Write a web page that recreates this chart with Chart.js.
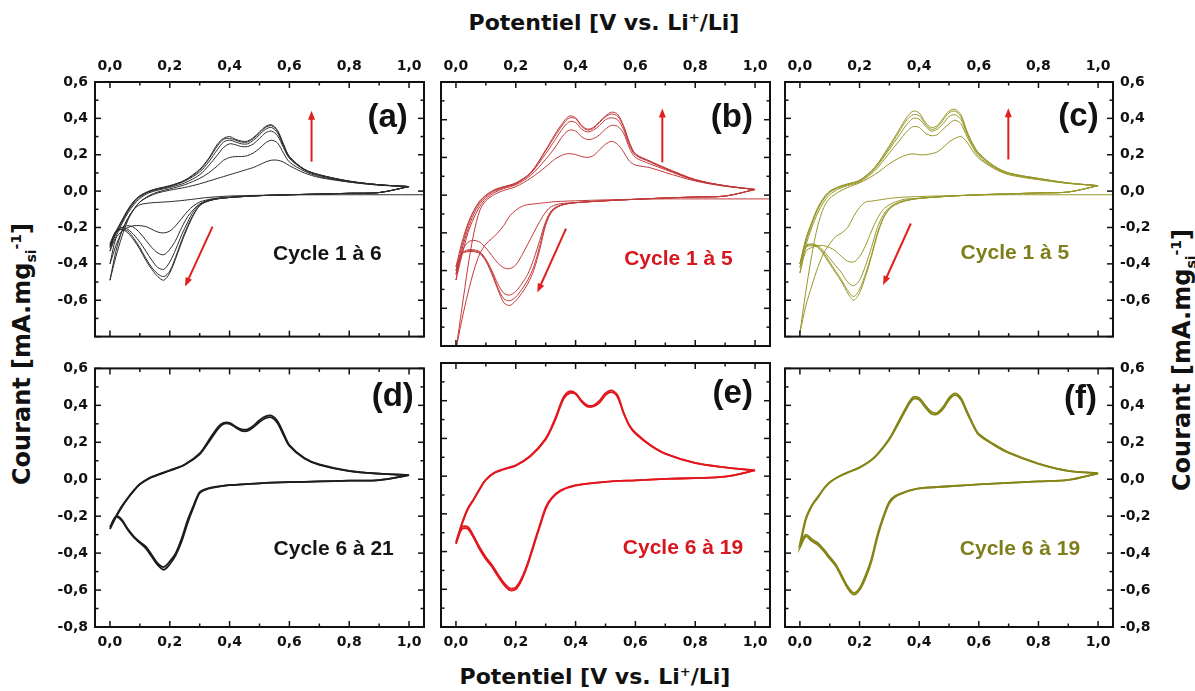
<!DOCTYPE html>
<html lang="fr">
<head>
<meta charset="UTF-8">
<title>Voltammétrie cyclique</title>
<script src="https://cdn.jsdelivr.net/npm/chart.js@4.4.0/dist/chart.umd.min.js"></script>
<style>
    body { margin: 0; background: #fff; }
    #fig { position: relative; width: 1195px; height: 691px; overflow: hidden; font-family: "DejaVu Sans", sans-serif; }
    #fig canvas { position: absolute; }
    .ttl { position: absolute; font-weight: bold; font-size: 22px; line-height: 1; color: #111; white-space: nowrap; transform: translate(-50%, -50%); }
    .ttl.v { font-size: 24px; transform: translate(-50%, -50%) rotate(-90deg); }
    .ttl sup, .ttl sub { font-size: 13px; line-height: 0; }
    .ttl.v sup, .ttl.v sub { font-size: 14px; }
</style>
</head>
<body>
<div id="fig">
    <canvas id="pa" width="390" height="302" style="left:40px;top:50px"></canvas>
    <canvas id="pb" width="341" height="302" style="left:435px;top:50px"></canvas>
    <canvas id="pc" width="389" height="302" style="left:779px;top:50px"></canvas>
    <canvas id="pd" width="390" height="306" style="left:40px;top:353px"></canvas>
    <canvas id="pe" width="341" height="306" style="left:435px;top:353px"></canvas>
    <canvas id="pf" width="389" height="306" style="left:779px;top:353px"></canvas>

    <div class="ttl" style="left:604px;top:23px">Potentiel [V vs. Li<sup>+</sup>/Li]</div>
    <div class="ttl" style="left:595px;top:677px">Potentiel [V vs. Li<sup>+</sup>/Li]</div>
    <div class="ttl v" style="left:22px;top:354px">Courant [mA.mg<sub>si</sub><sup>-1</sup>]</div>
    <div class="ttl v" style="left:1182px;top:360px">Courant [mA.mg<sub>si</sub><sup>-1</sup>]</div>
</div>

<script>
// potential grids (V vs Li+/Li)
const potCath = [1.0, 0.9, 0.8, 0.7, 0.6, 0.5, 0.4, 0.35, 0.32, 0.3, 0.28, 0.26, 0.24, 0.22, 0.2, 0.18, 0.16, 0.14, 0.12, 0.1, 0.08, 0.06, 0.04, 0.02, 0.0];
const potCathOcp = [1.05, 0.9, 0.8, 0.7, 0.6, 0.5, 0.4, 0.35, 0.32, 0.3, 0.28, 0.26, 0.24, 0.22, 0.2, 0.18, 0.16, 0.14, 0.12, 0.1, 0.08, 0.06, 0.04, 0.02, 0.0];
const potAnod = [0.0, 0.02, 0.04, 0.06, 0.08, 0.1, 0.13, 0.16, 0.2, 0.25, 0.3, 0.33, 0.36, 0.38, 0.4, 0.42, 0.44, 0.46, 0.48, 0.5, 0.52, 0.54, 0.56, 0.58, 0.6, 0.65, 0.7, 0.8, 0.9, 1.0];

const xTickValues = [0.0, 0.2, 0.4, 0.6, 0.8, 1.0];
const yTickValues = [0.6, 0.4, 0.2, 0.0, -0.2, -0.4, -0.6, -0.8];

// (a) cycles 1 to 6 - current in mA/mg
const aCath = [
    [-0.02, -0.02, -0.02, -0.02, -0.021, -0.023, -0.027, -0.032, -0.036, -0.04, -0.044, -0.048, -0.052, -0.055, -0.058, -0.06, -0.062, -0.064, -0.068, -0.075, -0.1, -0.15, -0.22, -0.33, -0.49],
    [0.025, -0.008, -0.012, -0.016, -0.02, -0.025, -0.033, -0.04, -0.05, -0.06, -0.08, -0.11, -0.15, -0.19, -0.22, -0.23, -0.225, -0.21, -0.195, -0.19, -0.19, -0.2, -0.22, -0.26, -0.4],
    [0.025, -0.008, -0.012, -0.016, -0.02, -0.025, -0.035, -0.043, -0.055, -0.07, -0.1, -0.14, -0.2, -0.27, -0.32, -0.35, -0.34, -0.31, -0.27, -0.23, -0.2, -0.19, -0.2, -0.23, -0.33],
    [0.025, -0.008, -0.012, -0.016, -0.02, -0.025, -0.035, -0.045, -0.058, -0.075, -0.11, -0.17, -0.24, -0.32, -0.39, -0.43, -0.42, -0.38, -0.33, -0.28, -0.24, -0.21, -0.2, -0.22, -0.3],
    [0.025, -0.008, -0.012, -0.016, -0.02, -0.025, -0.035, -0.045, -0.06, -0.08, -0.125, -0.19, -0.27, -0.36, -0.44, -0.47, -0.455, -0.42, -0.37, -0.31, -0.26, -0.22, -0.21, -0.23, -0.31],
    [0.025, -0.008, -0.012, -0.016, -0.02, -0.025, -0.035, -0.045, -0.06, -0.08, -0.13, -0.2, -0.28, -0.37, -0.45, -0.49, -0.47, -0.43, -0.38, -0.32, -0.27, -0.23, -0.21, -0.22, -0.29]
];
const aAnod = [
    [-0.49, -0.36, -0.25, -0.16, -0.1, -0.06, -0.03, -0.01, 0.005, 0.02, 0.04, 0.055, 0.07, 0.08, 0.09, 0.1, 0.11, 0.12, 0.13, 0.145, 0.16, 0.17, 0.17, 0.16, 0.14, 0.1, 0.075, 0.05, 0.033, 0.025],
    [-0.4, -0.3, -0.22, -0.15, -0.1, -0.06, -0.025, -0.005, 0.012, 0.035, 0.07, 0.1, 0.14, 0.17, 0.185, 0.19, 0.19, 0.195, 0.21, 0.235, 0.265, 0.28, 0.265, 0.21, 0.16, 0.11, 0.08, 0.05, 0.033, 0.025],
    [-0.33, -0.25, -0.18, -0.12, -0.075, -0.04, -0.01, 0.005, 0.02, 0.045, 0.09, 0.14, 0.2, 0.24, 0.26, 0.255, 0.245, 0.245, 0.26, 0.29, 0.32, 0.33, 0.305, 0.24, 0.18, 0.117, 0.086, 0.053, 0.035, 0.025],
    [-0.3, -0.23, -0.17, -0.11, -0.065, -0.032, -0.005, 0.01, 0.025, 0.055, 0.105, 0.16, 0.23, 0.27, 0.28, 0.27, 0.26, 0.26, 0.28, 0.31, 0.34, 0.35, 0.32, 0.25, 0.185, 0.118, 0.088, 0.054, 0.035, 0.025],
    [-0.31, -0.23, -0.165, -0.105, -0.06, -0.028, -0.002, 0.013, 0.028, 0.058, 0.115, 0.175, 0.25, 0.285, 0.29, 0.28, 0.27, 0.27, 0.29, 0.32, 0.35, 0.36, 0.33, 0.255, 0.19, 0.12, 0.09, 0.055, 0.035, 0.025],
    [-0.29, -0.22, -0.16, -0.1, -0.055, -0.025, 0.0, 0.015, 0.03, 0.06, 0.12, 0.18, 0.26, 0.29, 0.3, 0.285, 0.275, 0.275, 0.295, 0.325, 0.355, 0.365, 0.335, 0.26, 0.19, 0.12, 0.09, 0.055, 0.035, 0.025]
];

// (b) cycles 1 to 5
const bCath = [
    [-0.02, -0.02, -0.02, -0.02, -0.022, -0.025, -0.03, -0.033, -0.036, -0.04, -0.043, -0.047, -0.05, -0.06, -0.08, -0.11, -0.16, -0.2, -0.23, -0.26, -0.31, -0.4, -0.52, -0.66, -0.82],
    [0.03, -0.005, -0.01, -0.015, -0.022, -0.03, -0.04, -0.045, -0.06, -0.09, -0.14, -0.2, -0.26, -0.32, -0.37, -0.39, -0.385, -0.36, -0.32, -0.28, -0.25, -0.24, -0.25, -0.3, -0.45],
    [0.03, -0.005, -0.01, -0.015, -0.022, -0.03, -0.04, -0.052, -0.08, -0.14, -0.24, -0.34, -0.42, -0.47, -0.51, -0.53, -0.52, -0.47, -0.4, -0.34, -0.3, -0.29, -0.29, -0.31, -0.42],
    [0.03, -0.005, -0.01, -0.015, -0.022, -0.03, -0.04, -0.055, -0.085, -0.15, -0.27, -0.38, -0.45, -0.5, -0.54, -0.56, -0.55, -0.49, -0.41, -0.345, -0.305, -0.295, -0.295, -0.31, -0.4],
    [0.03, -0.005, -0.01, -0.015, -0.022, -0.03, -0.04, -0.055, -0.09, -0.16, -0.29, -0.4, -0.47, -0.52, -0.56, -0.585, -0.57, -0.5, -0.42, -0.35, -0.31, -0.3, -0.3, -0.31, -0.38]
];
const bAnod = [
    [-0.82, -0.6, -0.38, -0.2, -0.08, -0.03, 0.005, 0.025, 0.045, 0.09, 0.15, 0.19, 0.215, 0.22, 0.215, 0.205, 0.2, 0.21, 0.24, 0.27, 0.285, 0.27, 0.23, 0.18, 0.16, 0.145, 0.12, 0.075, 0.047, 0.03],
    [-0.45, -0.32, -0.2, -0.12, -0.06, -0.02, 0.015, 0.035, 0.055, 0.105, 0.19, 0.25, 0.32, 0.345, 0.34, 0.31, 0.295, 0.3, 0.32, 0.35, 0.37, 0.365, 0.33, 0.25, 0.2, 0.165, 0.135, 0.078, 0.048, 0.03],
    [-0.42, -0.29, -0.18, -0.1, -0.045, -0.01, 0.022, 0.04, 0.06, 0.115, 0.22, 0.29, 0.36, 0.39, 0.385, 0.35, 0.335, 0.345, 0.37, 0.4, 0.41, 0.4, 0.35, 0.265, 0.212, 0.175, 0.14, 0.08, 0.05, 0.03],
    [-0.4, -0.27, -0.16, -0.085, -0.035, -0.003, 0.028, 0.043, 0.063, 0.118, 0.235, 0.31, 0.38, 0.41, 0.405, 0.365, 0.345, 0.355, 0.385, 0.415, 0.43, 0.42, 0.365, 0.275, 0.218, 0.178, 0.143, 0.082, 0.05, 0.03],
    [-0.38, -0.25, -0.15, -0.08, -0.03, 0.0, 0.03, 0.045, 0.065, 0.12, 0.24, 0.32, 0.39, 0.42, 0.41, 0.37, 0.35, 0.36, 0.39, 0.42, 0.44, 0.43, 0.37, 0.28, 0.22, 0.18, 0.145, 0.083, 0.05, 0.03]
];

// (c) cycles 1 to 5
const cCath = [
    [-0.02, -0.02, -0.02, -0.02, -0.022, -0.025, -0.03, -0.033, -0.037, -0.04, -0.045, -0.05, -0.055, -0.06, -0.09, -0.14, -0.2, -0.23, -0.25, -0.29, -0.34, -0.42, -0.52, -0.63, -0.78],
    [0.03, -0.005, -0.01, -0.015, -0.02, -0.028, -0.04, -0.045, -0.06, -0.075, -0.1, -0.15, -0.22, -0.3, -0.36, -0.39, -0.385, -0.36, -0.33, -0.31, -0.3, -0.3, -0.31, -0.33, -0.45],
    [0.03, -0.005, -0.01, -0.015, -0.02, -0.028, -0.04, -0.052, -0.07, -0.09, -0.13, -0.2, -0.31, -0.41, -0.49, -0.52, -0.5, -0.45, -0.41, -0.37, -0.33, -0.3, -0.29, -0.3, -0.42],
    [0.03, -0.005, -0.01, -0.015, -0.02, -0.028, -0.04, -0.055, -0.073, -0.097, -0.145, -0.23, -0.35, -0.455, -0.54, -0.58, -0.545, -0.49, -0.44, -0.39, -0.34, -0.305, -0.295, -0.305, -0.4],
    [0.03, -0.005, -0.01, -0.015, -0.02, -0.028, -0.04, -0.055, -0.075, -0.1, -0.15, -0.24, -0.36, -0.47, -0.56, -0.6, -0.56, -0.5, -0.45, -0.4, -0.35, -0.31, -0.3, -0.31, -0.4]
];
const cAnod = [
    [-0.78, -0.55, -0.35, -0.19, -0.09, -0.04, -0.005, 0.02, 0.045, 0.09, 0.15, 0.18, 0.2, 0.205, 0.2, 0.2, 0.205, 0.215, 0.24, 0.27, 0.29, 0.3, 0.27, 0.22, 0.18, 0.125, 0.09, 0.063, 0.042, 0.03],
    [-0.45, -0.3, -0.2, -0.12, -0.06, -0.02, 0.012, 0.03, 0.05, 0.11, 0.21, 0.27, 0.33, 0.355, 0.35, 0.32, 0.305, 0.31, 0.34, 0.37, 0.39, 0.37, 0.3, 0.24, 0.19, 0.13, 0.095, 0.066, 0.043, 0.03],
    [-0.42, -0.28, -0.18, -0.1, -0.045, -0.008, 0.02, 0.035, 0.055, 0.12, 0.23, 0.3, 0.37, 0.4, 0.395, 0.36, 0.33, 0.34, 0.37, 0.41, 0.42, 0.395, 0.315, 0.25, 0.2, 0.135, 0.098, 0.068, 0.044, 0.03],
    [-0.4, -0.27, -0.175, -0.095, -0.04, -0.003, 0.022, 0.038, 0.058, 0.125, 0.24, 0.32, 0.395, 0.42, 0.415, 0.37, 0.34, 0.35, 0.39, 0.43, 0.44, 0.41, 0.325, 0.255, 0.205, 0.138, 0.1, 0.07, 0.045, 0.03],
    [-0.4, -0.26, -0.17, -0.09, -0.035, 0.0, 0.025, 0.04, 0.06, 0.13, 0.25, 0.33, 0.41, 0.44, 0.43, 0.38, 0.35, 0.36, 0.4, 0.44, 0.45, 0.42, 0.33, 0.26, 0.21, 0.14, 0.1, 0.07, 0.045, 0.03]
];

// (d) cycles 6 to 21 (first and last of the band)
const dCath = [
    [0.022, -0.005, -0.008, -0.012, -0.016, -0.022, -0.032, -0.042, -0.053, -0.07, -0.14, -0.22, -0.32, -0.4, -0.445, -0.475, -0.455, -0.41, -0.365, -0.34, -0.31, -0.27, -0.22, -0.2, -0.26],
    [0.022, -0.005, -0.008, -0.012, -0.016, -0.022, -0.032, -0.044, -0.056, -0.075, -0.15, -0.235, -0.335, -0.41, -0.46, -0.49, -0.465, -0.42, -0.375, -0.345, -0.315, -0.275, -0.225, -0.205, -0.27]
];
const dAnod = [
    [-0.26, -0.2, -0.145, -0.1, -0.06, -0.026, 0.005, 0.025, 0.048, 0.08, 0.14, 0.21, 0.28, 0.305, 0.305, 0.285, 0.27, 0.27, 0.29, 0.32, 0.34, 0.345, 0.315, 0.25, 0.185, 0.115, 0.08, 0.045, 0.03, 0.022],
    [-0.27, -0.205, -0.15, -0.103, -0.062, -0.028, 0.003, 0.023, 0.046, 0.078, 0.135, 0.2, 0.27, 0.3, 0.3, 0.28, 0.262, 0.262, 0.282, 0.31, 0.33, 0.335, 0.305, 0.24, 0.18, 0.112, 0.078, 0.044, 0.03, 0.022]
];

// (e) cycles 6 to 19
const eCath = [
    [0.03, -0.003, -0.01, -0.015, -0.022, -0.03, -0.048, -0.075, -0.115, -0.165, -0.26, -0.36, -0.46, -0.54, -0.59, -0.595, -0.565, -0.52, -0.47, -0.43, -0.38, -0.32, -0.27, -0.27, -0.35],
    [0.03, -0.003, -0.01, -0.015, -0.022, -0.03, -0.05, -0.078, -0.12, -0.175, -0.27, -0.37, -0.47, -0.55, -0.6, -0.605, -0.575, -0.53, -0.48, -0.44, -0.39, -0.33, -0.28, -0.28, -0.36]
];
const eAnod = [
    [-0.35, -0.25, -0.17, -0.12, -0.065, -0.018, 0.02, 0.038, 0.058, 0.11, 0.2, 0.3, 0.42, 0.45, 0.44, 0.4, 0.375, 0.375, 0.4, 0.44, 0.455, 0.43, 0.34, 0.27, 0.23, 0.165, 0.12, 0.07, 0.047, 0.03],
    [-0.36, -0.255, -0.175, -0.123, -0.068, -0.02, 0.018, 0.036, 0.056, 0.107, 0.195, 0.29, 0.41, 0.44, 0.435, 0.395, 0.368, 0.37, 0.39, 0.43, 0.445, 0.42, 0.335, 0.265, 0.225, 0.162, 0.118, 0.069, 0.046, 0.03]
];

// (f) cycles 6 to 19
const fCath = [
    [0.032, -0.004, -0.012, -0.02, -0.028, -0.038, -0.05, -0.07, -0.09, -0.12, -0.2, -0.3, -0.43, -0.52, -0.59, -0.615, -0.58, -0.52, -0.46, -0.42, -0.38, -0.345, -0.325, -0.3, -0.35],
    [0.032, -0.004, -0.012, -0.02, -0.028, -0.038, -0.05, -0.072, -0.095, -0.13, -0.21, -0.315, -0.445, -0.535, -0.6, -0.625, -0.59, -0.53, -0.47, -0.43, -0.39, -0.355, -0.335, -0.31, -0.37]
];
const fAnod = [
    [-0.35, -0.21, -0.14, -0.095, -0.05, -0.016, 0.015, 0.038, 0.064, 0.12, 0.22, 0.31, 0.4, 0.445, 0.44, 0.4, 0.365, 0.36, 0.39, 0.44, 0.465, 0.44, 0.37, 0.3, 0.245, 0.19, 0.145, 0.085, 0.045, 0.032],
    [-0.37, -0.22, -0.145, -0.1, -0.053, -0.018, 0.013, 0.036, 0.062, 0.117, 0.215, 0.3, 0.39, 0.435, 0.43, 0.39, 0.355, 0.352, 0.38, 0.43, 0.455, 0.43, 0.36, 0.293, 0.24, 0.186, 0.142, 0.083, 0.045, 0.032]
];

const panels = [
    {id: 'pa', cath: aCath, anod: aAnod, ocp: true, line: '#2b2b2b', lw: 1, ink: '#151515', letter: '(a)', letterAt: [0.996, 0.405],
     caption: 'Cycle 1 à 6', captionAt: [0.727, -0.345], arrows: [[0.674, 0.162, 0.674, 0.442], [0.343, -0.195, 0.251, -0.525]],
     xPos: 'top', yPos: 'left', pad: {left: 0, right: 6, top: 0, bottom: 6}},
    {id: 'pb', cath: bCath, anod: bAnod, ocp: true, line: '#c2393a', lw: 1, ink: '#d8161e', letter: '(b)', letterAt: [0.993, 0.41],
     caption: 'Cycle 1 à 5', captionAt: [0.744, -0.34], arrows: [[0.69, 0.174, 0.69, 0.46], [0.368, -0.178, 0.272, -0.516]],
     xPos: 'top', yPos: null, pad: {left: 6, right: 6, top: 0, bottom: 6}},
    {id: 'pc', cath: cCath, anod: cAnod, ocp: true, line: '#979729', lw: 1, ink: '#7e7e1c', letter: '(c)', letterAt: [1.002, 0.41],
     caption: 'Cycle 1 à 5', captionAt: [0.721, -0.34], arrows: [[0.699, 0.174, 0.699, 0.456], [0.372, -0.178, 0.279, -0.516]],
     xPos: 'top', yPos: 'right', pad: {left: 6, right: 0, top: 0, bottom: 6}},
    {id: 'pd', cath: dCath, anod: dAnod, ocp: false, line: '#1c1c1c', lw: 1.8, ink: '#151515', letter: '(d)', letterAt: [1.016, 0.446],
     caption: 'Cycle 6 à 21', captionAt: [0.748, -0.38], arrows: [],
     xPos: 'bottom', yPos: 'left', pad: {left: 0, right: 6, top: 10, bottom: 0}},
    {id: 'pe', cath: eCath, anod: eAnod, ocp: false, line: '#e3161e', lw: 1.8, ink: '#d8161e', letter: '(e)', letterAt: [0.993, 0.438],
     caption: 'Cycle 6 à 19', captionAt: [0.759, -0.38], arrows: [],
     xPos: 'bottom', yPos: null, pad: {left: 6, right: 6, top: 10, bottom: 0}},
    {id: 'pf', cath: fCath, anod: fAnod, ocp: false, line: '#858517', lw: 1.8, ink: '#7e7e1c', letter: '(f)', letterAt: [0.996, 0.433],
     caption: 'Cycle 6 à 19', captionAt: [0.738, -0.38], arrows: [],
     xPos: 'bottom', yPos: 'right', pad: {left: 6, right: 0, top: 10, bottom: 0}}
];

const tickFont = {family: 'DejaVu Sans', size: 14, weight: 'bold'};
const fmt = v => (Math.abs(v) < 1e-9 ? 0 : v).toFixed(1).replace('.', ',');

// box with inward ticks on the four sides
const cvFrame = {
    id: 'cvFrame',
    afterDatasetsDraw(chart) {
        const {ctx, chartArea: ca, scales: {x, y}} = chart;
        ctx.save();
        ctx.strokeStyle = '#111';
        ctx.lineWidth = 1.5;
        const tick = (px, py, dx, dy) => { ctx.beginPath(); ctx.moveTo(px, py); ctx.lineTo(px + dx, py + dy); ctx.stroke(); };
        xTickValues.forEach((v, i) => {
            const px = x.getPixelForValue(v);
            tick(px, ca.top, 0, 6); tick(px, ca.bottom, 0, -6);
            if (i < xTickValues.length - 1) {
                const pm = x.getPixelForValue((v + xTickValues[i + 1]) / 2);
                tick(pm, ca.top, 0, 3.5); tick(pm, ca.bottom, 0, -3.5);
            }
        });
        yTickValues.forEach((v, i) => {
            const py = y.getPixelForValue(v);
            tick(ca.left, py, 6, 0); tick(ca.right, py, -6, 0);
            if (i < yTickValues.length - 1) {
                const pm = y.getPixelForValue((v + yTickValues[i + 1]) / 2);
                tick(ca.left, pm, 3.5, 0); tick(ca.right, pm, -3.5, 0);
            }
        });
        ctx.lineWidth = 2;
        ctx.strokeRect(ca.left, ca.top, ca.width, ca.height);
        ctx.restore();
    }
};

function arrow(ctx, x0, y0, x1, y1) {
    const a = Math.atan2(y1 - y0, x1 - x0), c = Math.cos(a), s = Math.sin(a);
    ctx.beginPath(); ctx.moveTo(x0, y0); ctx.lineTo(x1 - 6 * c, y1 - 6 * s); ctx.stroke();
    ctx.beginPath();
    ctx.moveTo(x1, y1);
    ctx.lineTo(x1 - 9 * c + 3.5 * s, y1 - 9 * s - 3.5 * c);
    ctx.lineTo(x1 - 9 * c - 3.5 * s, y1 - 9 * s + 3.5 * c);
    ctx.closePath(); ctx.fill();
}

// panel letter, cycle caption, red arrows
const cvNotes = {
    id: 'cvNotes',
    afterDraw(chart, args, o) {
        const {ctx, scales: {x, y}} = chart;
        ctx.save();
        ctx.fillStyle = '#111';
        ctx.font = 'bold 33px "Liberation Sans", Arial, sans-serif';
        ctx.textAlign = 'right'; ctx.textBaseline = 'middle';
        ctx.fillText(o.letter, x.getPixelForValue(o.letterAt[0]), y.getPixelForValue(o.letterAt[1]));
        ctx.fillStyle = o.ink;
        ctx.font = 'bold 21px "Liberation Sans", Arial, sans-serif';
        ctx.textAlign = 'center';
        ctx.fillText(o.caption, x.getPixelForValue(o.captionAt[0]), y.getPixelForValue(o.captionAt[1]));
        ctx.strokeStyle = '#e0201e'; ctx.fillStyle = '#e0201e'; ctx.lineWidth = 2;
        o.arrows.forEach(r => arrow(ctx, x.getPixelForValue(r[0]), y.getPixelForValue(r[1]), x.getPixelForValue(r[2]), y.getPixelForValue(r[3])));
        ctx.restore();
    }
};

panels.forEach(p => {
    const datasets = p.cath.map((cath, i) => {
        const vc = (p.ocp && i === 0) ? potCathOcp : potCath;
        const pts = vc.map((v, k) => ({x: v, y: cath[k]}))
            .concat(potAnod.map((v, k) => ({x: v, y: p.anod[i][k]})));
        return {data: pts, showLine: true, borderColor: p.line, borderWidth: p.lw, pointRadius: 0, tension: 0.3, fill: false};
    });
    const top = p.xPos === 'top';
    const showY = p.yPos !== null;
    const yLabels = top ? yTickValues.slice(0, -1) : yTickValues;

    new Chart(document.getElementById(p.id), {
        type: 'scatter',
        data: {datasets: datasets},
        options: {
            responsive: false,
            animation: false,
            devicePixelRatio: 1,
            layout: {padding: p.pad},
            events: [],
            plugins: {
                legend: {display: false},
                tooltip: {enabled: false},
                cvNotes: {letter: p.letter, letterAt: p.letterAt, caption: p.caption, captionAt: p.captionAt, ink: p.ink, arrows: p.arrows}
            },
            scales: {
                x: {
                    type: 'linear', position: p.xPos, min: -0.05, max: 1.05,
                    grid: {display: false, drawTicks: false}, border: {display: false},
                    ticks: {font: tickFont, color: '#111', padding: 7, autoSkip: false, maxRotation: 0, callback: fmt},
                    afterBuildTicks: s => { s.ticks = xTickValues.map(v => ({value: v})); },
                    afterFit: s => { s.height = 32; }
                },
                y: {
                    type: 'linear', display: showY, position: p.yPos || 'left', min: -0.8, max: 0.6,
                    grid: {display: false, drawTicks: false}, border: {display: false},
                    ticks: {font: tickFont, color: '#111', padding: 7, autoSkip: false, callback: fmt},
                    afterBuildTicks: s => { s.ticks = yLabels.map(v => ({value: v})); },
                    afterFit: s => { s.width = showY ? 55 : 0; }
                }
            }
        },
        plugins: [cvFrame, cvNotes]
    });
});
</script>
</body>
</html>
